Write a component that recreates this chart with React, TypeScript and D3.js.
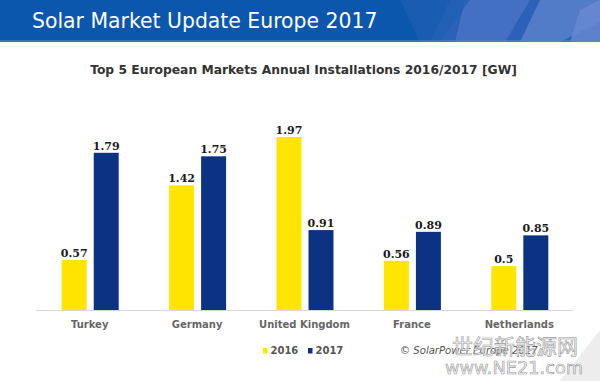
import React from "react";
import * as d3 from "d3";

const categories = ["Turkey", "Germany", "United Kingdom", "France", "Netherlands"];
const values2016 = [0.57, 1.42, 1.97, 0.56, 0.5];
const values2017 = [1.79, 1.75, 0.91, 0.89, 0.85];
const seriesNames = ["2016", "2017"];
const seriesColors = ["#ffe500", "#0b3283"];

const W = 600;
const H = 381;

export default function App() {
  const x0 = d3.scaleBand<string>().domain(categories).range([36, 573]).paddingInner(0).paddingOuter(0);
  const x1 = d3.scaleBand<string>().domain(seriesNames).range([-28, 29]).paddingInner(0.22);
  const y = d3.scaleLinear().domain([0, 1.97]).range([310, 137]);
  const series = [values2016, values2017];
  const sans = "'DejaVu Sans', Verdana, sans-serif";
  const serif = "'DejaVu Serif', Georgia, serif";

  return (
    <svg width={W} height={H} style={{ position: "absolute", left: 0, top: 0, display: "block" }}>
      <rect x={0} y={0} width={W} height={H} fill="#ffffff" />
      {/* header */}
      <rect x={0} y={0} width={W} height={42} fill="#0a57ad" />
      <polygon points="450,0 600,0 600,42 430,42" fill="#2f63b8" opacity={0.9} />
      <polygon points="465,0 530,0 505,42 455,42" fill="#4a74c4" opacity={0.8} />
      <polygon points="540,0 600,0 600,22 560,42 520,42" fill="#5d82cc" opacity={0.8} />
      <polygon points="580,10 600,0 600,42 570,42" fill="#6a8bd2" opacity={0.8} />
      <polygon points="400,0 470,0 440,42 420,42" fill="#1e5fb3" opacity={0.7} />
      <rect x={0} y={40} width={W} height={2} fill="#5a83c9" opacity={0.6} />
      <text x={32} y={28} fill="#ffffff" fontFamily={sans} fontSize={20.4}>
        Solar Market Update Europe 2017
      </text>

      {/* subtitle */}
      <text x={303.5} y={74} textAnchor="middle" fill="#333333" fontFamily={sans} fontWeight="bold" fontSize={12.3}>
        Top 5 European Markets Annual Installations 2016/2017 [GW]
      </text>

      {/* axis baseline */}
      <line x1={36} x2={573} y1={310.5} y2={310.5} stroke="#d9d9d9" strokeWidth={1} />

      {/* bars */}
      {categories.map((c, i) => {
        const cx = (x0(c) as number) + x0.bandwidth() / 2;
        return (
          <g key={c}>
            {series.map((vals, s) => {
              const bx = cx + (x1(seriesNames[s]) as number);
              const bw = x1.bandwidth();
              return (
                <g key={s}>
                  <rect x={bx} y={y(vals[i])} width={bw} height={310 - y(vals[i])} fill={seriesColors[s]} />
                  <text
                    x={bx + bw / 2}
                    y={y(vals[i]) - 3}
                    textAnchor="middle"
                    fill="#1a1a1a"
                    fontFamily={serif}
                    fontWeight="bold"
                    fontSize={11}
                  >
                    {String(vals[i])}
                  </text>
                </g>
              );
            })}
            <text x={cx} y={328} textAnchor="middle" fill="#666666" fontFamily={sans} fontWeight="bold" fontSize={10}>
              {c}
            </text>
          </g>
        );
      })}

      {/* legend */}
      {seriesNames.map((n, s) => (
        <g key={n} transform={`translate(${263 + s * 45},0)`}>
          <rect x={0} y={348} width={4.5} height={5.5} fill={seriesColors[s]} />
          <text x={7.5} y={354} fill="#555555" fontFamily={sans} fontWeight="bold" fontSize={10}>
            {n}
          </text>
        </g>
      ))}
      <text x={400} y={354} fill="#555555" fontFamily={sans} fontStyle="italic" fontSize={10.1}>
        © SolarPower Europe 2017
      </text>

      {/* watermark */}
      <polygon points="560,381 600,330 600,381" fill="#e6e6e6" opacity={0.7} />
      <text x={515} y={354} textAnchor="middle" fill="#f4f4f4" fillOpacity={0.85} stroke="#9a9a9a" strokeWidth={0.6} fontFamily="'Noto Sans CJK SC', sans-serif" fontSize={21}>
        世纪新能源网
      </text>
      <text x={445} y={374} textLength={138} lengthAdjust="spacingAndGlyphs" fill="#f7f7f7" stroke="#9a9a9a" strokeWidth={0.6} fontFamily="'DejaVu Sans', sans-serif" fontSize={17}>
        www.NE21.com
      </text>
    </svg>
  );
}
